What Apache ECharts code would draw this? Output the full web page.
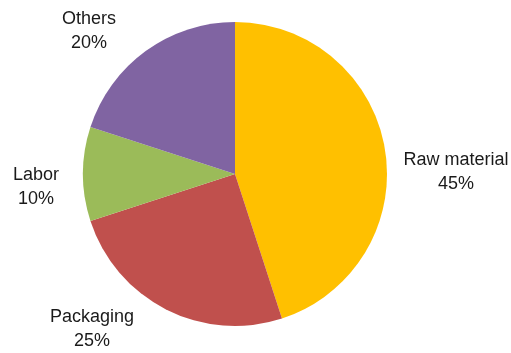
<!DOCTYPE html>
<html>
<head>
<meta charset="utf-8">
<script src="https://cdn.jsdelivr.net/npm/echarts@6/dist/echarts.min.js"></script>
<style>
  html, body { margin: 0; padding: 0; background: #fff; }
  #main { width: 511px; height: 353px; }
</style>
</head>
<body>
<div id="main"></div>
<script>
// cost breakdown
var categories = ['Raw material', 'Packaging', 'Labor', 'Others'];
var shares = [45, 25, 10, 20];
var colors = ['#FFC000', '#C0504D', '#9BBB59', '#8064A2'];

// label block centres
var labelPos = [[456, 172], [92, 329], [36, 187], [89, 31]];

var pieData = [];
for (var i = 0; i < categories.length; i++) {
    pieData.push({ name: categories[i], value: shares[i], itemStyle: { color: colors[i] } });
}

var myChart = echarts.init(document.getElementById('main'));
var option = {
    animation: false,
    series: [
        {
            type: 'pie',
            center: [235, 174],
            radius: 152,
            startAngle: 90,
            clockwise: true,
            itemStyle: { borderWidth: 0 },
            label: {
                show: true,
                position: 'outside',
                alignTo: 'none',
                overflow: 'none',
                formatter: '{b}\n{d}%',
                fontFamily: '"Liberation Sans Narrow", "Arial Narrow", "Liberation Sans", sans-serif',
                fontSize: 18,
                lineHeight: 24,
                color: '#1a1a1a',
                align: 'center'
            },
            labelLine: { show: false },
            labelLayout: function (params) {
                var p = labelPos[params.dataIndex];
                return { x: p[0], y: p[1], align: 'center', verticalAlign: 'middle' };
            },
            emphasis: { disabled: true },
            data: pieData
        }
    ]
};
myChart.setOption(option);
</script>
</body>
</html>
